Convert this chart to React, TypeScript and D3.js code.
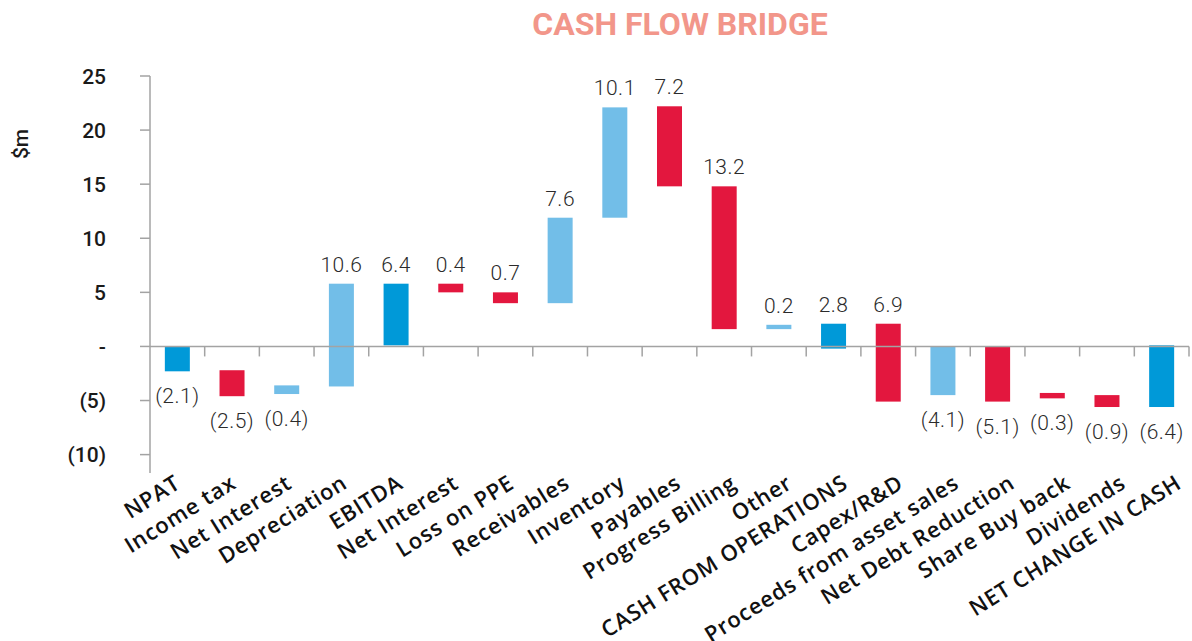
import React, { useEffect, useRef } from 'react';
import * as d3 from 'd3';

// Cash flow bridge data (start / end of each floating bar, $m)
const categories = [
  'NPAT', 'Income tax', 'Net Interest', 'Depreciation', 'EBITDA', 'Net Interest',
  'Loss on PPE', 'Receivables', 'Inventory', 'Payables', 'Progress Billing', 'Other',
  'CASH FROM OPERATIONS', 'Capex/R&D', 'Proceeds from asset sales', 'Net Debt Reduction',
  'Share Buy back', 'Dividends', 'NET CHANGE IN CASH'
];
const barStart = [0, -2.2, -3.6, -3.7, 0.1, 5.8, 5.0, 4.0, 11.9, 22.2, 14.8, 1.6, 2.1, 2.1, 0, 0, -4.3, -4.5, 0.1];
const barEnd = [-2.3, -4.6, -4.4, 5.8, 5.8, 5.0, 4.0, 11.9, 22.1, 14.8, 1.6, 2.0, -0.2, -5.1, -4.5, -5.1, -4.8, -5.6, -5.6];
const valueLabels = [
  '(2.1)', '(2.5)', '(0.4)', '10.6', '6.4', '0.4', '0.7', '7.6', '10.1', '7.2', '13.2',
  '0.2', '2.8', '6.9', '(4.1)', '(5.1)', '(0.3)', '(0.9)', '(6.4)'
];
const barType = [
  'total', 'neg', 'pos', 'pos', 'total', 'neg', 'neg', 'pos', 'pos', 'neg', 'neg',
  'pos', 'total', 'neg', 'pos', 'neg', 'neg', 'neg', 'total'
];
const yTicks = [25, 20, 15, 10, 5, 0, -5, -10];
const yTickLabels = ['25', '20', '15', '10', '5', '-', '(5)', '(10)'];

const colors: Record<string, string> = {
  total: '#0099d8',
  pos: '#72bee8',
  neg: '#e3173e'
};

const WIDTH = 1192;
const HEIGHT = 641;

const App: React.FC = () => {
  const svgRef = useRef<SVGSVGElement>(null);

  useEffect(() => {
    document.body.style.margin = '0';
    if (!svgRef.current) return;
    const svg = d3.select(svgRef.current);
    svg.selectAll('*').remove();

    const left = 150;
    const right = 1189;
    const top = 76;
    const bottom = 473;

    const x = d3.scaleBand<number>()
      .domain(d3.range(categories.length))
      .range([left, right])
      .paddingInner(0)
      .paddingOuter(0);
    const barW = 25;

    const y = d3.scaleLinear().domain([-11.7, 25]).range([bottom, top]);

    // label anchors drift slightly wider than the bands in the original
    const labelX = d3.scalePoint<number>()
      .domain(d3.range(categories.length))
      .range([182, 1183]);

    const axisColor = '#a3a3a3';

    // title
    svg.append('text')
      .attr('x', 680)
      .attr('y', 35)
      .attr('text-anchor', 'middle')
      .style('font-family', 'Roboto, sans-serif')
      .style('font-weight', 700)
      .style('font-size', '32px')
      .style('fill', '#f2968a')
      .text('CASH FLOW BRIDGE');

    // y axis title
    svg.append('text')
      .attr('transform', 'translate(28,144) rotate(-90)')
      .attr('text-anchor', 'middle')
      .style('font-family', 'Roboto, sans-serif')
      .style('font-weight', 500)
      .style('font-size', '21px')
      .style('fill', '#1a1a1a')
      .text('$m');

    // y axis
    const gy = svg.append('g');
    gy.append('line')
      .attr('x1', left).attr('x2', left)
      .attr('y1', top).attr('y2', bottom)
      .attr('stroke', axisColor)
      .attr('stroke-width', 1.5);

    gy.selectAll('line.tick')
      .data(yTicks)
      .join('line')
      .attr('class', 'tick')
      .attr('x1', left - 10).attr('x2', left)
      .attr('y1', d => y(d)).attr('y2', d => y(d))
      .attr('stroke', axisColor)
      .attr('stroke-width', 1.5);

    gy.selectAll('text')
      .data(yTicks)
      .join('text')
      .attr('x', 106)
      .attr('y', d => y(d))
      .attr('dy', '0.36em')
      .attr('text-anchor', 'end')
      .style('font-family', 'Roboto, sans-serif')
      .style('font-weight', 500)
      .style('font-size', '21px')
      .style('fill', '#1a1a1a')
      .text((d, i) => yTickLabels[i]);

    // bars
    svg.append('g')
      .selectAll('rect')
      .data(categories.map((c, i) => i))
      .join('rect')
      .attr('x', i => (x(i) as number) + x.bandwidth() / 2 - barW / 2)
      .attr('width', barW)
      .attr('y', i => y(Math.max(barStart[i], barEnd[i])))
      .attr('height', i => Math.abs(y(barStart[i]) - y(barEnd[i])))
      .attr('fill', i => colors[barType[i]]);

    // x axis at zero
    const gx = svg.append('g');
    gx.append('line')
      .attr('x1', left).attr('x2', right)
      .attr('y1', y(0)).attr('y2', y(0))
      .attr('stroke', axisColor)
      .attr('stroke-width', 1.5);

    gx.selectAll('line.tick')
      .data(d3.range(1, categories.length + 1))
      .join('line')
      .attr('class', 'tick')
      .attr('x1', i => left + i * x.step())
      .attr('x2', i => left + i * x.step())
      .attr('y1', y(0)).attr('y2', y(0) + 10)
      .attr('stroke', axisColor)
      .attr('stroke-width', 1.5);

    // value labels
    svg.append('g')
      .selectAll('text')
      .data(categories.map((c, i) => i))
      .join('text')
      .attr('x', i => (x(i) as number) + x.bandwidth() / 2)
      .attr('y', i => valueLabels[i].startsWith('(')
        ? y(Math.min(barStart[i], barEnd[i])) + 32
        : y(Math.max(barStart[i], barEnd[i])) - 12)
      .attr('text-anchor', 'middle')
      .style('font-family', 'Roboto, sans-serif')
      .style('font-weight', 300)
      .style('font-size', '21px')
      .style('letter-spacing', '0.5px')
      .style('fill', '#2b2b2b')
      .text(i => valueLabels[i]);

    // category labels
    svg.append('g')
      .selectAll('text')
      .data(categories.map((c, i) => i))
      .join('text')
      .attr('transform', i => `translate(${labelX(i)},487) rotate(-32)`)
      .attr('text-anchor', 'end')
      .style('font-family', '"Open Sans", sans-serif')
      .style('font-weight', 600)
      .style('font-size', '22px')
      .style('letter-spacing', '0.8px')
      .style('fill', '#111')
      .text(i => categories[i]);
  }, []);

  return (
    <svg
      ref={svgRef}
      width={WIDTH}
      height={HEIGHT}
      style={{ display: 'block', background: '#fff' }}
    />
  );
};

export default App;
